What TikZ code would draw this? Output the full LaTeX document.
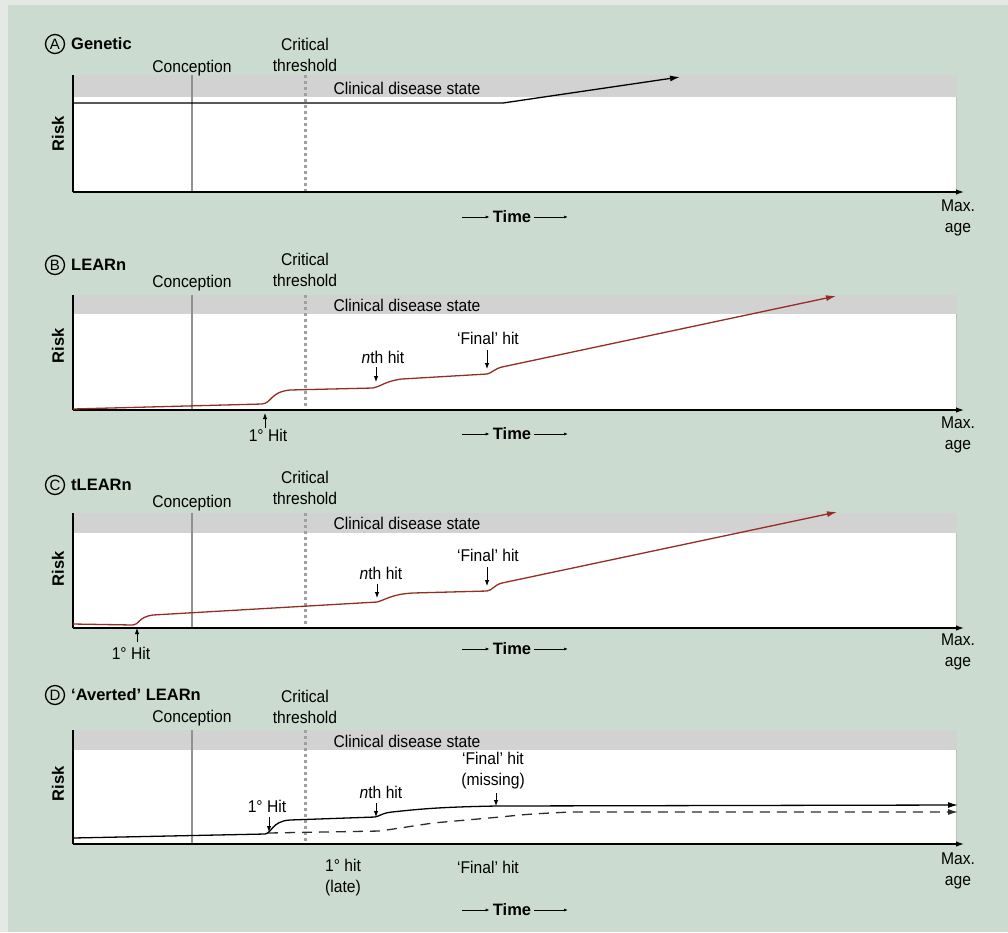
\documentclass[tikz,border=0pt]{standalone}
\usepackage{fontspec}
\setmainfont{Liberation Sans}[FakeStretch=0.92]
\newfontfamily\headfont{Liberation Sans}
\usetikzlibrary{arrows.meta}
\definecolor{sage}{RGB}{204,219,207}
\definecolor{rim}{RGB}{228,233,229}
\definecolor{band}{RGB}{210,210,210}
\definecolor{concline}{RGB}{145,145,145}
\definecolor{threshline}{RGB}{160,160,160}
\definecolor{riskred}{RGB}{150,45,35}
\definecolor{dashgray}{RGB}{45,45,45}

\begin{document}
\begin{tikzpicture}[x=1pt,y=-1pt,
  font=\fontsize{17}{21}\selectfont,
  lbl/.style={inner sep=0pt, align=center},
  ttl/.style={inner sep=0pt, font=\fontsize{16.5}{21}\headfont\bfseries},
  badge/.style={circle, draw, line width=1.3pt, inner sep=0pt, minimum size=19pt,
    font=\fontsize{15}{16}\headfont},
  axis/.style={line width=1.3pt, -{Latex[length=8pt,width=5.5pt]}},
  curve/.style={line width=1.3pt, -{Latex[length=10pt,width=6pt]}},
  hit/.style={line width=0.9pt, -{Latex[length=6pt,width=4.5pt]}},
  timearr/.style={line width=0.8pt, -{Latex[length=4pt,width=3pt]}},
  conc/.style={concline, line width=2.5pt},
  thresh/.style={threshline, line width=3pt, dash pattern=on 3pt off 3pt},
]
% page background with its light rim
\fill[rim] (0,0) rectangle (1008,932);
\fill[sage] (8,5) rectangle (1008,932);
\useasboundingbox (0,0) rectangle (1008,932);

% the four chart frames: band top / band bottom / time axis
\foreach \p/\T/\M/\B in {A/75/97/192, B/295/314/410, C/513/533/628, D/730/750/844}{
  \fill[band] (74,\T) rectangle (957,\M);
  \fill[white] (74,\M) rectangle (956,\B);
  \draw[black!25, line width=0.6pt] (956,\M) -- (956,\B);
  \draw[conc] (192,\T) -- (192,\B);
  \draw[thresh] (305,\T) -- (305,\B);
  \coordinate (yt\p) at (73,\T);
  \coordinate (o\p) at (73,\B);
  \coordinate (xe\p) at (964,\B);
  \draw[line width=1.5pt] (yt\p) -- (o\p);
  \draw[axis] (o\p) -- (xe\p);
}

% ---------- A: Genetic ----------
\node[badge] (bA) at (55,44) {A};
\node[ttl, anchor=west] (tiA) at (71,44) {Genetic};
\node[lbl] (cnA) at (192,68) {Conception};
\node[lbl] (crA) at (305,54.5) {Critical\\threshold};
\node[lbl] (clA) at (407,88) {Clinical disease state};
\node[ttl, rotate=90] (rkA) at (58,134) {Risk};
\node[lbl] (mxA) at (958,218) {Max.\\age};
\node[ttl, inner sep=3pt] (tmA) at (512,217) {Time};
\coordinate (tlA) at (462,217);
\coordinate (trA) at (568,217);
\draw[timearr] (tlA) -- (tmA.west);
\draw[timearr] (tmA.east) -- (trA);
\draw[curve] (73,103) -- (503,103) -- (680,77);

% ---------- B: LEARn ----------
\node[badge] (bB) at (55,265) {B};
\node[ttl, anchor=west] (tiB) at (71,265) {LEARn};
\node[lbl] (cnB) at (192,283) {Conception};
\node[lbl] (crB) at (305,270) {Critical\\threshold};
\node[lbl] (clB) at (407,305) {Clinical disease state};
\node[ttl, rotate=90] (rkB) at (58,346) {Risk};
\node[lbl] (mxB) at (958,435) {Max.\\age};
\node[ttl, inner sep=3pt] (tmB) at (512,434) {Time};
\coordinate (tlB) at (462,434);
\coordinate (trB) at (568,434);
\draw[timearr] (tlB) -- (tmB.west);
\draw[timearr] (tmB.east) -- (trB);
\draw[curve, riskred] (73,409) -- (262,404)
  .. controls (272,403) and (270,392) .. (290,390) -- (373,388)
  .. controls (380,387) and (385,381) .. (402,379) -- (487,374)
  .. controls (492,373) and (494,369) .. (502,367) -- (836,296);
\node[lbl] (h1B) at (268,435) {1° Hit};
\coordinate (h1Bt) at (265,428);
\coordinate (h1Bh) at (265,413);
\draw[hit] (h1Bt) -- (h1Bh);
\node[lbl] (hnB) at (383,357) {\itshape n\upshape th hit};
\coordinate (hnBt) at (376,367);
\coordinate (hnBh) at (376,382);
\draw[hit] (hnBt) -- (hnBh);
\node[lbl] (hfB) at (488,338) {‘Final’ hit};
\coordinate (hfBt) at (487,350);
\coordinate (hfBh) at (487,369);
\draw[hit] (hfBt) -- (hfBh);

% ---------- C: tLEARn ----------
\node[badge] (bC) at (55,485) {C};
\node[ttl, anchor=west] (tiC) at (71,485) {tLEARn};
\node[lbl] (cnC) at (192,503) {Conception};
\node[lbl] (crC) at (305,487.5) {Critical\\threshold};
\node[lbl] (clC) at (407,523) {Clinical disease state};
\node[ttl, rotate=90] (rkC) at (58,569) {Risk};
\node[lbl] (mxC) at (958,652) {Max.\\age};
\node[ttl, inner sep=3pt] (tmC) at (512,649) {Time};
\coordinate (tlC) at (462,649);
\coordinate (trC) at (568,649);
\draw[timearr] (tlC) -- (tmC.west);
\draw[timearr] (tmC.east) -- (trC);
\draw[curve, riskred] (73,624) -- (133,625)
  .. controls (139,625) and (138,617) .. (153,615) -- (377,602)
  .. controls (385,600) and (392,594) .. (413,593) -- (487,591)
  .. controls (493,590) and (494,585) .. (502,583) -- (837,512);
\node[lbl] (h1C) at (131,653) {1° Hit};
\coordinate (h1Ct) at (137,642);
\coordinate (h1Ch) at (137,628);
\draw[hit] (h1Ct) -- (h1Ch);
\node[lbl] (hnC) at (381,573) {\itshape n\upshape th hit};
\coordinate (hnCt) at (377,584);
\coordinate (hnCh) at (377,598);
\draw[hit] (hnCt) -- (hnCh);
\node[lbl] (hfC) at (488,555) {‘Final’ hit};
\coordinate (hfCt) at (487,567);
\coordinate (hfCh) at (487,586);
\draw[hit] (hfCt) -- (hfCh);

% ---------- D: 'Averted' LEARn ----------
\node[badge] (bD) at (55,695) {D};
\node[ttl, anchor=west] (tiD) at (71,695) {‘Averted’ LEARn};
\node[lbl] (cnD) at (192,718) {Conception};
\node[lbl] (crD) at (305,706.5) {Critical\\threshold};
\node[lbl] (clD) at (407,741) {Clinical disease state};
\node[ttl, rotate=90] (rkD) at (58,784) {Risk};
\node[lbl] (mxD) at (958,871) {Max.\\age};
\node[ttl, inner sep=3pt] (tmD) at (512,910) {Time};
\coordinate (tlD) at (462,910);
\coordinate (trD) at (568,910);
\draw[timearr] (tlD) -- (tmD.west);
\draw[timearr] (tmD.east) -- (trD);
% averted course (dashed) and hit course (solid)
\draw[curve, dashgray, dash pattern=on 10pt off 7pt] (268,833) -- (380,831)
  .. controls (400,828) .. (433,823) -- (500,817)
  .. controls (530,814) .. (570,812) -- (958,812);
\draw[curve] (73,838) -- (265,834)
  .. controls (272,833) and (272,821) .. (290,820) -- (375,817)
  .. controls (380,816) and (382,813) .. (392,812)
  .. controls (420,809) and (440,807) .. (497,806) -- (958,805);
\node[lbl] (h1D) at (267,806) {1° Hit};
\coordinate (h1Dt) at (269,817);
\coordinate (h1Dh) at (269,832);
\draw[hit] (h1Dt) -- (h1Dh);
\node[lbl] (hnD) at (381,792) {\itshape n\upshape th hit};
\coordinate (hnDt) at (376,803);
\coordinate (hnDh) at (376,817);
\draw[hit] (hnDt) -- (hnDh);
\node[lbl] (hfD) at (493,771) {‘Final’ hit\\(missing)};
\coordinate (hfDt) at (496,793);
\coordinate (hfDh) at (496,806);
\draw[hit] (hfDt) -- (hfDh);
\node[lbl] (lateD) at (343,878) {1° hit\\(late)};
\node[lbl] (fbD) at (488,867) {‘Final’ hit};
\end{tikzpicture}
\end{document}
